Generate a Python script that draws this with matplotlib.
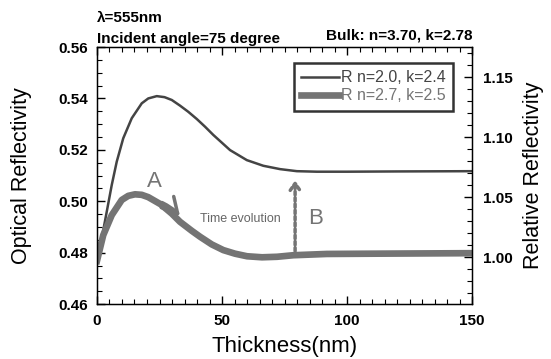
import numpy as np
import matplotlib.pyplot as plt
from matplotlib.ticker import MultipleLocator

plt.rcParams['font.family'] = ['Liberation Sans', 'DejaVu Sans']

# значения
t_dark = [0, 1.9, 3.9, 5.9, 7.9, 10.5, 13.9, 17.9, 20.5, 23.9, 27, 29.9, 33.2, 36.5, 39.9, 43.2,
          46.5, 53.2, 59.9, 66.5, 73.2, 79.9, 87.9, 100, 120, 150]
r_dark = [0.4765, 0.4856, 0.4959, 0.5063, 0.5154, 0.5245, 0.5323, 0.5381, 0.5400, 0.5409, 0.5405,
          0.5394, 0.5372, 0.5348, 0.5320, 0.5290, 0.5258, 0.5199, 0.5160, 0.5138, 0.5125, 0.5117,
          0.5115, 0.5115, 0.5116, 0.5117]
t_gray = [0, 2.5, 5.9, 9.9, 12.5, 15.2, 17.9, 20.5, 25.5, 29.9, 33.2, 37.9, 41.2, 45.9, 50.5, 55.2,
          60, 66, 72, 78.5, 91.9, 110, 130, 150]
r_gray = [0.4768, 0.4868, 0.4946, 0.5005, 0.5021, 0.5027, 0.5025, 0.5016, 0.4988, 0.4952, 0.4920,
          0.4885, 0.4862, 0.4832, 0.4810, 0.4796, 0.4786, 0.4782, 0.4784, 0.4790, 0.4795, 0.4796,
          0.4797, 0.4798]

c_dark = '#444444'
c_gray = '#747474'

fig = plt.figure(figsize=(5.51, 3.59), dpi=100)
ax = fig.add_axes([0.176, 0.153, 0.681, 0.716])

ax.plot(t_dark, r_dark, color=c_dark, lw=1.8, label='R n=2.0, k=2.4', solid_joinstyle='round')
ax.plot(t_gray, r_gray, color=c_gray, lw=4.8, label='R n=2.7, k=2.5', solid_joinstyle='round')

ax.set_xlim(0, 150)
ax.set_ylim(0.46, 0.56)
ax.xaxis.set_major_locator(MultipleLocator(50))
ax.xaxis.set_minor_locator(MultipleLocator(5))
ax.yaxis.set_major_locator(MultipleLocator(0.02))
ax.yaxis.set_minor_locator(MultipleLocator(0.005))
ax.yaxis.set_major_formatter(plt.FormatStrFormatter('%.2f'))
ax.tick_params(which='both', direction='in', top=True, right=False)
ax.tick_params(which='major', length=6, width=1)
ax.tick_params(which='minor', length=3.5, width=0.8)
ax.tick_params(labelsize=11)
ax.tick_params(axis='x', pad=7)
ax.tick_params(axis='y', pad=6.5)
for lab in ax.get_xticklabels() + ax.get_yticklabels():
    lab.set_fontweight('bold')
for s in ax.spines.values():
    s.set_linewidth(1.0)

ax.set_xlabel('Thickness(nm)', fontsize=16)
ax.xaxis.set_label_coords(0.5, -0.125)
ax.set_ylabel('Optical Reflectivity', fontsize=15.5)
ax.yaxis.set_label_coords(-0.173, 0.5)

ax2 = ax.twinx()
ax2.set_ylim(0.9607, 1.1754)
ax2.yaxis.set_major_locator(MultipleLocator(0.05))
ax2.yaxis.set_minor_locator(MultipleLocator(0.01))
ax2.yaxis.set_major_formatter(plt.FormatStrFormatter('%.2f'))
ax2.tick_params(which='both', direction='in', labelsize=11)
ax2.tick_params(which='major', length=6, width=1, pad=8)
ax2.tick_params(which='minor', length=3.5, width=0.8)
for lab in ax2.get_yticklabels():
    lab.set_fontweight('bold')
ax2.set_ylabel('Relative Reflectivity', fontsize=15.5)
ax2.yaxis.set_label_coords(1.136, 0.5)

leg = ax.legend(loc='upper right', bbox_to_anchor=(0.822, 0.8245), bbox_transform=fig.transFigure,
                fontsize=11.5, frameon=True, fancybox=False, handlelength=2.4, handletextpad=0.1,
                borderpad=0.45, labelspacing=0.2, borderaxespad=0)
leg.get_frame().set_edgecolor('black')
leg.get_frame().set_linewidth(1.8)
for txt, c in zip(leg.get_texts(), [c_dark, c_gray]):
    txt.set_color(c)

# подписи
ax.text(22.9, 0.5076, 'A', color=c_gray, fontsize=16, ha='center', va='center')
ax.annotate('', xy=(33.2, 0.4942), xytext=(26, 0.4995),
            arrowprops=dict(arrowstyle='->,head_length=1.1,head_width=0.6', color=c_gray, lw=2.5,
                            shrinkA=0, shrinkB=0, connectionstyle='arc3,rad=-0.1'))
ax.text(57.5, 0.4931, 'Time evolution', color='#666666', fontsize=9, ha='center', va='center')
ax.annotate('', xy=(79.2, 0.5092), xytext=(79.2, 0.4795),
            arrowprops=dict(arrowstyle='->,head_length=0.5,head_width=0.35', color=c_gray, lw=2.5,
                            linestyle=(0, (1, 0.8))))
ax.text(87.5, 0.4933, 'B', color=c_gray, fontsize=16, ha='center', va='center')

fig.text(0.176, 0.950, 'λ=555nm', fontsize=11, fontweight='bold', ha='left', va='center')
fig.text(0.176, 0.891, 'Incident angle=75 degree', fontsize=11, fontweight='bold', ha='left', va='center')
fig.text(0.857, 0.9025, 'Bulk: n=3.70, k=2.78', fontsize=11, fontweight='bold', ha='right', va='center')

fig.savefig('out.png', dpi=100)
